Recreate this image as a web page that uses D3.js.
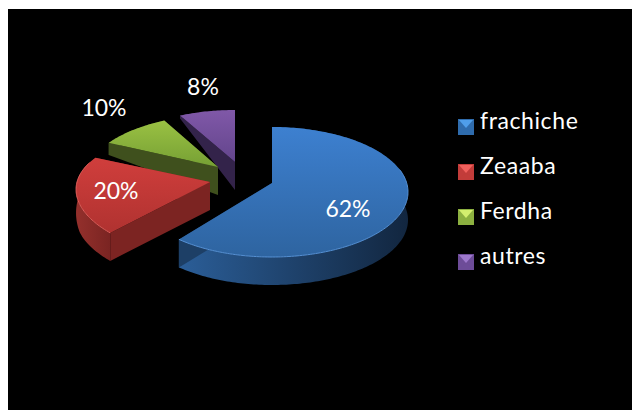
<!DOCTYPE html>
<html>
<head>
<meta charset="utf-8">
<script src="https://cdn.jsdelivr.net/npm/d3@7"></script>
<style>
  html, body { margin: 0; padding: 0; background: #fff; }
  svg { display: block; }
  text { font-family: Lato, "Open Sans", sans-serif; fill: #fff; }
</style>
</head>
<body>
<div id="chart"></div>
<script>
// Data
const categories = ["frachiche", "Zeaaba", "Ferdha", "autres"];
const values = [62, 20, 10, 8];

// Colours per slice
const faceTop = ["#3d80d0", "#d03e3c", "#9ac143", "#8058a8"];
const faceBottom = ["#2e64a0", "#b03230", "#76a034", "#63458c"];
const wallLeft = ["#2b5e98", "#94302c", "#445720", "#352449"];
const wallRight = ["#12263f", "#7a2422", "#3a4a1a", "#2e1f40"];
const cutWall = ["#1d3f66", "#7c2422", "#3f501d", "#33234a"];
const rimLight = ["#5590d4", "#dc5e5a", "#b5d667", "#9b78c0"];
const swatchTop = ["#4f9eea", "#f0605c", "#d3ee6e", "#9d78cc"];
const swatchMid = ["#2f6cad", "#c23c3a", "#8cb040", "#6d4c98"];

// Layout: where each exploded slice sits, and how the perspective squeezes it
const apex = [[272, 183], [210, 182], [218, 167], [235, 162]];
const rimShift = [9, 0, 0, 0];
const radiusX = [136, 133, 131, 134];
const radiusY = [65, 61, 61, 61];
const skewY = [0, 0.173, 0.173, 0.173];
const skewX = [0, 0.12, 0.2, 0.2];
const depth = 28;

const width = 632, height = 410;

const svg = d3.select("#chart").append("svg")
    .attr("width", width)
    .attr("height", height);

svg.append("rect")
    .attr("x", 8).attr("y", 9)
    .attr("width", width - 8).attr("height", height - 9)
    .attr("fill", "#000");

const defs = svg.append("defs");
const blur = defs.append("filter").attr("id", "soft");
blur.append("feGaussianBlur").attr("stdDeviation", 0.5);

categories.forEach((c, i) => {
    const face = defs.append("linearGradient").attr("id", `face${i}`)
        .attr("x1", 0).attr("y1", 0).attr("x2", 0).attr("y2", 1);
    face.append("stop").attr("offset", "0%").attr("stop-color", faceTop[i]);
    face.append("stop").attr("offset", "100%").attr("stop-color", faceBottom[i]);

    const wall = defs.append("linearGradient").attr("id", `wall${i}`)
        .attr("x1", 0).attr("y1", 0).attr("x2", 1).attr("y2", 0);
    wall.append("stop").attr("offset", "0%").attr("stop-color", wallLeft[i]);
    wall.append("stop").attr("offset", "100%").attr("stop-color", wallRight[i]);
});

// Pie angles come from d3.pie, the squashed ellipse is applied afterwards
const pie = d3.pie().sort(null).value(d => d)(values);
const line = d3.line();

function project(i, a) {
    const s = Math.sin(a), c = Math.cos(a);
    return [
        apex[i][0] + radiusX[i] * s / (1 + skewX[i] * c),
        apex[i][1] + rimShift[i] - radiusY[i] * c / (1 + skewY[i] * c)
    ];
}

// wall height shrinks toward the back on the left side
function wallHeight(a) {
    const s = Math.sin(a), c = Math.cos(a);
    if (s >= -0.001) return depth;
    return Math.max(0, Math.min(depth, 21 - 20.5 * c));
}

function rimAngles(d) {
    const n = Math.ceil((d.endAngle - d.startAngle) / 0.02);
    return d3.range(n + 1).map(k => d.startAngle + (d.endAngle - d.startAngle) * k / n);
}

function cutPath(i, a) {
    const p = project(i, a), h = wallHeight(a), o = apex[i];
    return line([o, p, [p[0], p[1] + h], [o[0], o[1] + depth]]) + "Z";
}

// Back slices first so the nearer ones paint over them
const slices = svg.append("g").selectAll("g")
    .data(pie.map((d, i) => ({ ...d, i })).reverse())
    .enter().append("g");

slices.append("path") // outer wall
    .attr("d", d => {
        const as = rimAngles(d);
        const top = as.map(a => project(d.i, a));
        const bottom = as.map(a => {
            const p = project(d.i, a);
            return [p[0], p[1] + wallHeight(a)];
        }).reverse();
        return line(top.concat(bottom)) + "Z";
    })
    .attr("fill", d => `url(#wall${d.i})`);

slices.append("path") // flat cut walls
    .attr("d", d => cutPath(d.i, d.startAngle) + cutPath(d.i, d.endAngle))
    .attr("fill", d => cutWall[d.i]);

slices.append("path") // top face
    .attr("d", d => line([apex[d.i]].concat(rimAngles(d).map(a => project(d.i, a)))) + "Z")
    .attr("fill", d => `url(#face${d.i})`);

slices.append("path") // lit rim on the front edge
    .attr("d", d => line(rimAngles(d).filter(a => Math.cos(a) < 0.35).map(a => project(d.i, a))))
    .attr("fill", "none")
    .attr("stroke", d => rimLight[d.i])
    .attr("stroke-width", 1)
    .attr("filter", "url(#soft)");

// Percent labels
const labelPos = [[348, 209], [116, 191], [104, 108], [203, 87]];
svg.append("g").selectAll("text")
    .data(values)
    .enter().append("text")
    .attr("x", (d, i) => labelPos[i][0])
    .attr("y", (d, i) => labelPos[i][1])
    .attr("dy", "0.35em")
    .attr("text-anchor", "middle")
    .style("font-size", "23px")
    .text(d => d + "%");

// Legend
const legendY = d3.scalePoint().domain(categories).range([119, 254]);
const size = 16;

const legend = svg.append("g").selectAll("g")
    .data(categories)
    .enter().append("g")
    .attr("transform", d => `translate(458,${legendY(d)})`);

legend.append("rect")
    .attr("width", size).attr("height", size)
    .attr("fill", (d, i) => swatchMid[i]);

legend.append("path")
    .attr("d", line([[1, 1], [size - 1, 1], [size / 2, size / 2 + 1]]) + "Z")
    .attr("fill", (d, i) => swatchTop[i]);

legend.append("path")
    .attr("d", line([[1, size - 1], [size - 1, size - 1], [size / 2, size / 2 + 1]]) + "Z")
    .attr("fill", (d, i) => swatchMid[i])
    .attr("opacity", 0.75);

legend.append("text")
    .attr("x", 22)
    .attr("y", 10)
    .style("font-size", "23px")
    .style("letter-spacing", "0.6px")
    .text(d => d);
</script>
</body>
</html>
